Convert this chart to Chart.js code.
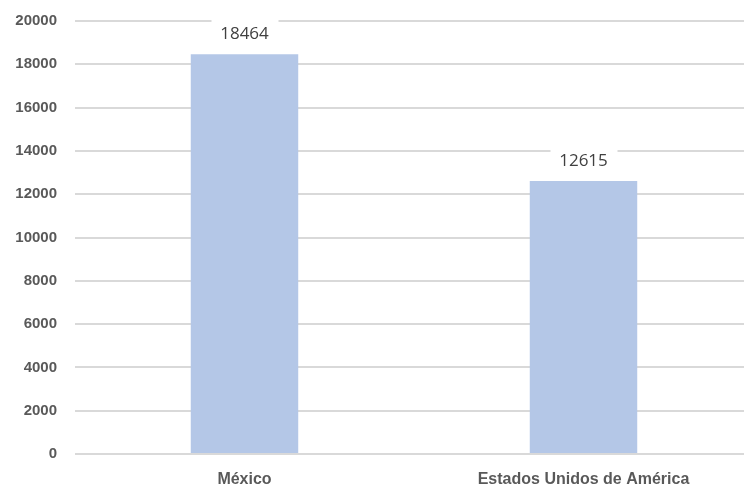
<!DOCTYPE html>
<html>
<head>
<meta charset="utf-8">
<script src="https://cdn.jsdelivr.net/npm/chart.js@4/dist/chart.umd.min.js"></script>
<style>
  html, body { margin: 0; padding: 0; background: #fff; overflow: hidden; }
  #myChart { display: block; margin-top: -6px; }
</style>
</head>
<body>
<canvas id="myChart" width="753" height="495"></canvas>
<script>
const paises = ['México', 'Estados Unidos de América'];
const valores = [18464, 12615];
const yMax = 20000;
const yPaso = 2000;

const ctx = document.getElementById('myChart').getContext('2d');

// etiquetas de valor encima de cada barra, con fondo blanco
const etiquetas = {
    id: 'etiquetas',
    afterDatasetsDraw(chart) {
        const c = chart.ctx;
        const meta = chart.getDatasetMeta(0);
        c.save();
        c.font = '17px "Open Sans", sans-serif';
        c.textAlign = 'center';
        c.textBaseline = 'middle';
        meta.data.forEach((bar, i) => {
            const y = bar.y - 20;
            c.fillStyle = '#ffffff';
            c.fillRect(bar.x - 33, y - 15, 67, 28);
            c.fillStyle = '#404040';
            c.fillText(String(valores[i]), bar.x, y);
        });
        c.restore();
    }
};

const myChart = new Chart(ctx, {
    type: 'bar',
    data: {
        labels: paises,
        datasets: [{
            data: valores,
            backgroundColor: '#b4c7e7',
            borderWidth: 0,
            barPercentage: 0.317,
            categoryPercentage: 1
        }]
    },
    options: {
        responsive: false,
        animation: false,
        layout: { padding: { top: 14, right: 0, bottom: 0, left: 0 } },
        plugins: {
            legend: { display: false },
            tooltip: { enabled: false }
        },
        scales: {
            y: {
                min: 0,
                max: yMax,
                afterFit(scale) { scale.width = 75; },
                ticks: {
                    stepSize: yPaso,
                    padding: 18,
                    color: '#595959',
                    font: { family: '"Liberation Sans", Arial, sans-serif', size: 15, weight: 'bold' },
                    callback: (v) => String(v)
                },
                grid: { color: '#d9d9d9', lineWidth: 2, drawTicks: false },
                border: { display: false }
            },
            x: {
                afterFit(scale) { scale.height = 35; },
                ticks: {
                    padding: 16,
                    color: '#595959',
                    font: { family: '"Liberation Sans", Arial, sans-serif', size: 16, weight: 'bold' }
                },
                grid: { display: false, drawTicks: false },
                border: { display: false }
            }
        }
    },
    plugins: [etiquetas]
});
</script>
</body>
</html>
